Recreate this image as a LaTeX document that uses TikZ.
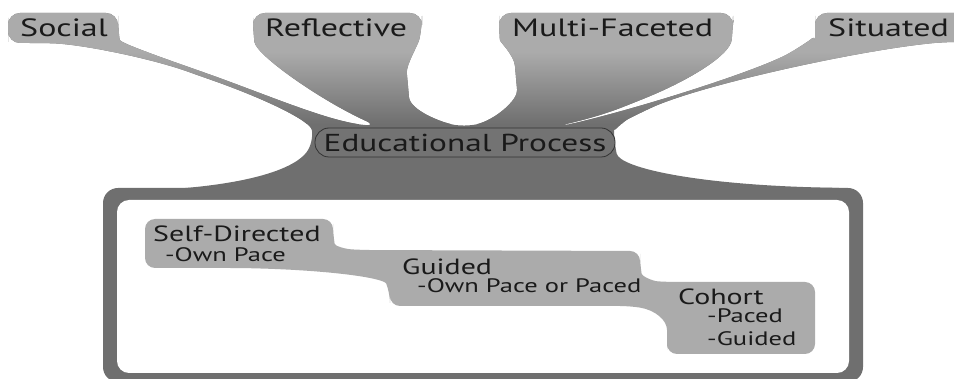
\documentclass[tikz,border=0pt]{standalone}
\usepackage{fontspec}
\setmainfont{PT Sans}[FakeStretch=1.36]
\usepackage{tikz}
\definecolor{ink}{HTML}{1A1A1A}
\definecolor{pale}{HTML}{ABABAB}
\definecolor{deep}{HTML}{6F6F6F}
\definecolor{pill}{HTML}{737373}
\definecolor{rim}{HTML}{333333}
\tikzset{
  lab/.style={text=ink, inner sep=0pt, anchor=base west, font=\fontsize{25}{30}\selectfont},
  labs/.style={text=ink, inner sep=0pt, anchor=base west, text depth=0pt,
    font=\fontsize{22}{26}\selectfont},
  labm/.style={text=ink, inner sep=0pt, anchor=base west, text height=13.5pt,
    text depth=0pt, font=\fontsize{19.5}{23}\selectfont},
  edubox/.style={draw=rim, fill=pill, line width=0.8pt, rounded corners=14pt,
    minimum width=300pt, minimum height=29pt, inner sep=0pt, text=ink,
    font=\fontsize{24.5}{29}\selectfont},
}

\begin{document}
\begin{tikzpicture}[x=1pt,y=-1pt]
  \useasboundingbox (0,0) rectangle (954,379);

  % the four themes flowing into the process, light on top
  \begin{scope}
    \clip[rounded corners=12pt] (8,30) -- (8,13) -- (118,13) -- (118,28)
      .. controls (120,42) and (140,50) .. (200,71)
      .. controls (270,96) and (330,122) .. (377,126)
      .. controls (320,100) and (256,55) .. (253,30) -- (253,13) -- (422,13) -- (422,28)
      .. controls (418,45) and (406,65) .. (408,85)
      .. controls (410,110) and (440,122) .. (465,127)
      .. controls (495,120) and (518,100) .. (516,78)
      .. controls (514,55) and (500,42) .. (499,28) -- (499,13) -- (733,13) -- (733,28)
      .. controls (730,55) and (690,80) .. (633,103)
      .. controls (600,116) and (575,122) .. (557,126) -- (562,126)
      .. controls (640,108) and (760,70) .. (800,47)
      .. controls (810,40) and (815,35) .. (815,28) -- (815,13) -- (966,13) -- (966,42) -- (945,42)
      .. controls (860,50) and (700,85) .. (640,113)
      .. controls (622,122) and (614,132) .. (614,142)
      .. controls (620,168) and (700,186) .. (850,188) -- (850,205) -- (120,205) -- (120,191)
      .. controls (220,189) and (290,175) .. (314,142)
      .. controls (310,120) and (260,97) .. (200,76)
      .. controls (150,58) and (80,44) .. (40,43) -- (8,43) -- cycle;
    \fill[deep] (0,0) rectangle (954,379);
    \shade[top color=pale, bottom color=deep] (0,52) rectangle (954,124);
    \fill[pale] (0,0) rectangle (954,52);
  \end{scope}

  % frame of delivery modes
  \fill[deep, rounded corners=15pt] (103,188) rectangle (863,382);
  \fill[white, rounded corners=12pt] (117,200) rectangle (849,373);
  \fill[pale, rounded corners=10pt] (145,240) -- (145,219) -- (333,219) -- (333,234)
    .. controls (335,246) and (345,249) .. (362,250) -- (640,251) -- (640,264)
    .. controls (642,276) and (652,281) .. (668,282) -- (815,282) -- (815,354)
    -- (667,354) -- (667,340)
    .. controls (667,320) and (655,310) .. (630,306) -- (390,306) -- (390,293)
    .. controls (384,278) and (330,270) .. (240,268) -- (145,268) -- cycle;

  \node[lab] (social) at (20,37) {Social};
  \node[lab] (reflective) at (265,37) {Reflective};
  \node[lab] (multi) at (512,37) {Multi-Faceted};
  \node[lab] (situated) at (828,37) {Situated};
  \node[edubox] (edu) at (465,142.5) {Educational Process};

  \node[labs] (selfdir) at (153,242) {Self-Directed};
  \node[labm] (ownpace) at (165,262) {-Own Pace};
  \node[labs] (guided) at (402,275) {Guided};
  \node[labm] (either) at (417,293) {-Own Pace or Paced};
  \node[labs] (cohort) at (678,305) {Cohort};
  \node[labm] (paced) at (707,323) {-Paced};
  \node[labm] (guide) at (707,346) {-Guided};
\end{tikzpicture}
\end{document}
